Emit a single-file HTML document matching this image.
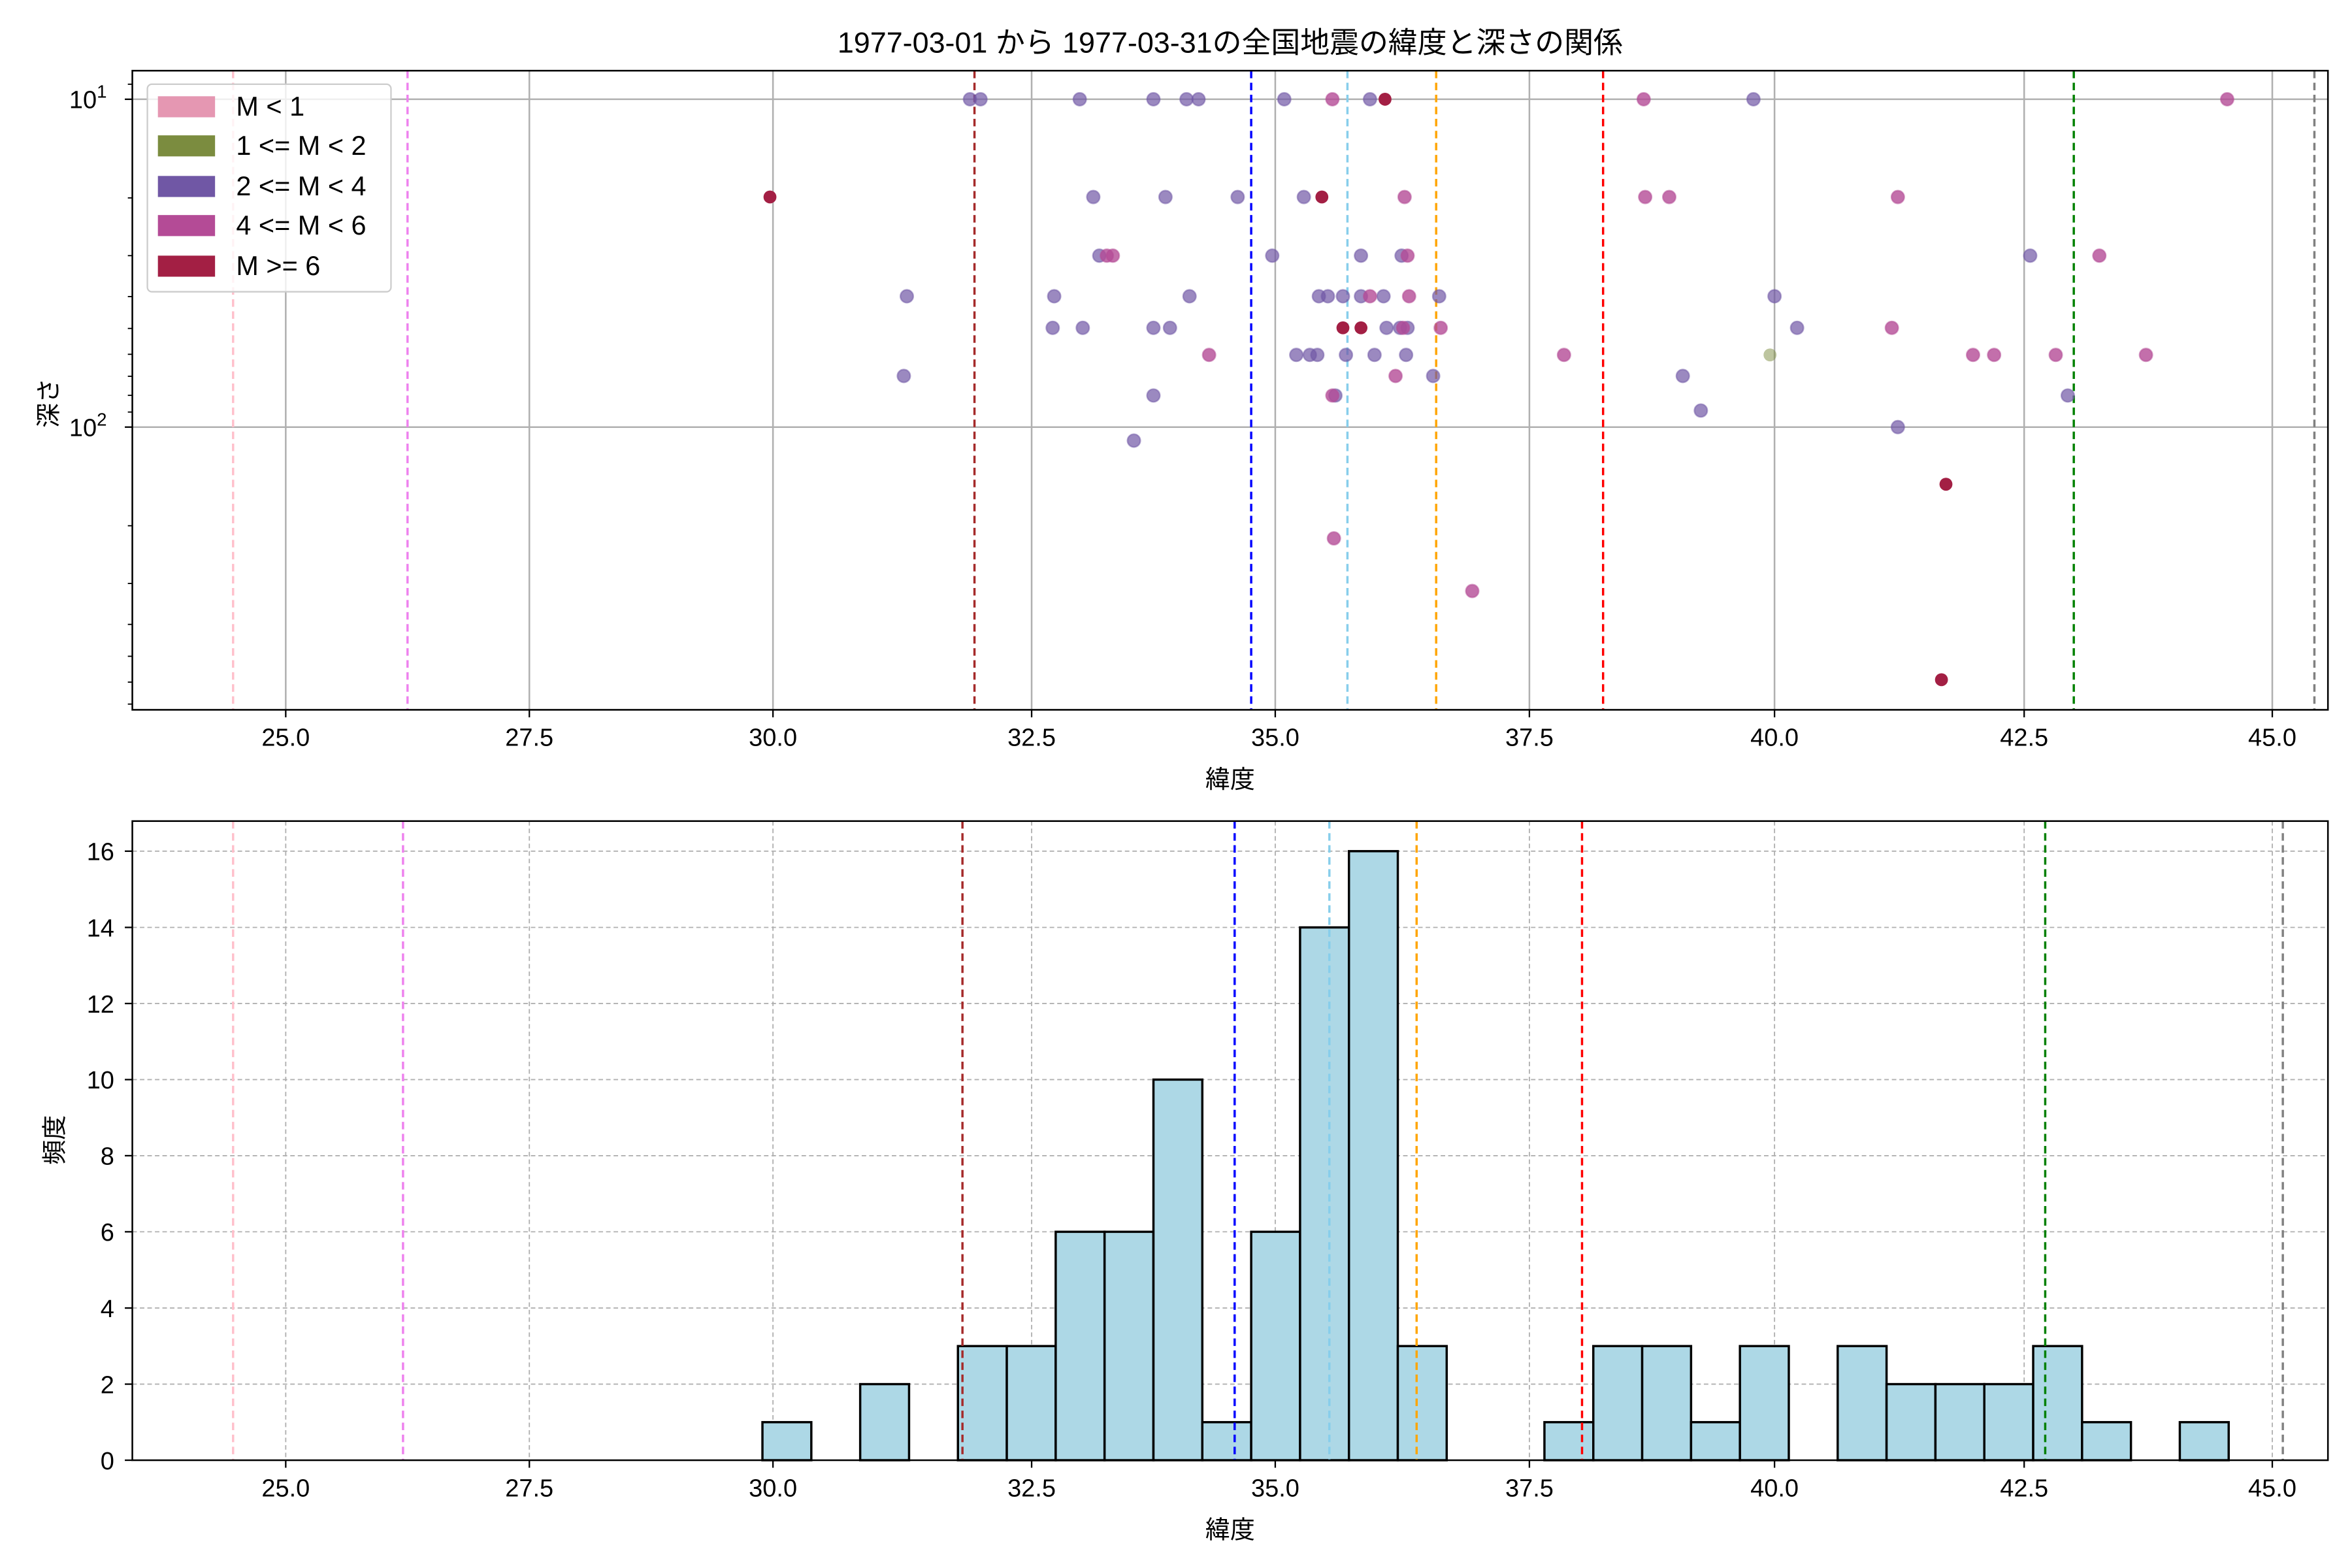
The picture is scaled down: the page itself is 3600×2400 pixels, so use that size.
<!DOCTYPE html>
<html><head><meta charset="utf-8"><style>html,body{margin:0;padding:0;background:#fff}svg{display:block}</style></head><body>
<svg xmlns="http://www.w3.org/2000/svg" width="3600" height="2400" viewBox="0 0 1564 1042.67" preserveAspectRatio="none" font-family="'Liberation Sans','Noto Sans CJK JP',sans-serif">
<rect width="1564" height="1043" fill="#fff"/>
<text x="818" y="35" font-size="19.5" text-anchor="middle">1977-03-01 から 1977-03-31の全国地震の緯度と深さの関係</text>
<!-- TOP AXES -->
<g stroke="#b0b0b0" stroke-width="1.1">
<line x1="190" y1="47" x2="190" y2="472"/><line x1="352" y1="47" x2="352" y2="472"/><line x1="514" y1="47" x2="514" y2="472"/><line x1="686" y1="47" x2="686" y2="472"/><line x1="848" y1="47" x2="848" y2="472"/><line x1="1017" y1="47" x2="1017" y2="472"/><line x1="1180" y1="47" x2="1180" y2="472"/><line x1="1346" y1="47" x2="1346" y2="472"/><line x1="1511" y1="47" x2="1511" y2="472"/>
<line x1="88" y1="66" x2="1548" y2="66"/><line x1="88" y1="284" x2="1548" y2="284"/>
</g>
<g stroke-width="1.5" stroke-dasharray="5,3" fill="none">
<line x1="155" y1="47" x2="155" y2="472" stroke="pink"/><line x1="271" y1="47" x2="271" y2="472" stroke="violet"/><line x1="648" y1="47" x2="648" y2="472" stroke="brown"/><line x1="832" y1="47" x2="832" y2="472" stroke="blue"/><line x1="896" y1="47" x2="896" y2="472" stroke="skyblue"/><line x1="955" y1="47" x2="955" y2="472" stroke="orange"/><line x1="1066" y1="47" x2="1066" y2="472" stroke="red"/><line x1="1379" y1="47" x2="1379" y2="472" stroke="green"/><line x1="1539" y1="47" x2="1539" y2="472" stroke="gray"/>
</g>
<g fill="#7057a5" fill-opacity="0.7" stroke="#7057a5" stroke-opacity="0.5" stroke-width="1">
<circle cx="645" cy="66" r="4.3"/><circle cx="652" cy="66" r="4.3"/><circle cx="718" cy="66" r="4.3"/><circle cx="767" cy="66" r="4.3"/><circle cx="789" cy="66" r="4.3"/><circle cx="797" cy="66" r="4.3"/><circle cx="854" cy="66" r="4.3"/><circle cx="911" cy="66" r="4.3"/><circle cx="1166" cy="66" r="4.3"/>
<circle cx="727" cy="131" r="4.3"/><circle cx="775" cy="131" r="4.3"/><circle cx="823" cy="131" r="4.3"/><circle cx="867" cy="131" r="4.3"/>
<circle cx="731" cy="170" r="4.3"/><circle cx="846" cy="170" r="4.3"/><circle cx="905" cy="170" r="4.3"/><circle cx="932" cy="170" r="4.3"/><circle cx="1350" cy="170" r="4.3"/>
<circle cx="603" cy="197" r="4.3"/><circle cx="701" cy="197" r="4.3"/><circle cx="791" cy="197" r="4.3"/><circle cx="877" cy="197" r="4.3"/><circle cx="883" cy="197" r="4.3"/><circle cx="893" cy="197" r="4.3"/><circle cx="905" cy="197" r="4.3"/><circle cx="920" cy="197" r="4.3"/><circle cx="957" cy="197" r="4.3"/><circle cx="1180" cy="197" r="4.3"/>
<circle cx="700" cy="218" r="4.3"/><circle cx="720" cy="218" r="4.3"/><circle cx="767" cy="218" r="4.3"/><circle cx="778" cy="218" r="4.3"/><circle cx="922" cy="218" r="4.3"/><circle cx="931" cy="218" r="4.3"/><circle cx="936" cy="218" r="4.3"/><circle cx="1195" cy="218" r="4.3"/>
<circle cx="862" cy="236" r="4.3"/><circle cx="871" cy="236" r="4.3"/><circle cx="876" cy="236" r="4.3"/><circle cx="895" cy="236" r="4.3"/><circle cx="914" cy="236" r="4.3"/><circle cx="935" cy="236" r="4.3"/>
<circle cx="601" cy="250" r="4.3"/><circle cx="953" cy="250" r="4.3"/><circle cx="1119" cy="250" r="4.3"/>
<circle cx="767" cy="263" r="4.3"/><circle cx="888" cy="263" r="4.3"/><circle cx="1375" cy="263" r="4.3"/><circle cx="1131" cy="273" r="4.3"/><circle cx="1262" cy="284" r="4.3"/><circle cx="754" cy="293" r="4.3"/>
</g>
<g fill="#b44b96" fill-opacity="0.8" stroke="#b44b96" stroke-opacity="0.5" stroke-width="1">
<circle cx="886" cy="66" r="4.3"/><circle cx="1093" cy="66" r="4.3"/><circle cx="1481" cy="66" r="4.3"/>
<circle cx="934" cy="131" r="4.3"/><circle cx="1094" cy="131" r="4.3"/><circle cx="1110" cy="131" r="4.3"/><circle cx="1262" cy="131" r="4.3"/>
<circle cx="736" cy="170" r="4.3"/><circle cx="740" cy="170" r="4.3"/><circle cx="936" cy="170" r="4.3"/><circle cx="1396" cy="170" r="4.3"/>
<circle cx="911" cy="197" r="4.3"/><circle cx="937" cy="197" r="4.3"/>
<circle cx="933" cy="218" r="4.3"/><circle cx="958" cy="218" r="4.3"/><circle cx="1258" cy="218" r="4.3"/>
<circle cx="804" cy="236" r="4.3"/><circle cx="1040" cy="236" r="4.3"/><circle cx="1312" cy="236" r="4.3"/><circle cx="1326" cy="236" r="4.3"/><circle cx="1367" cy="236" r="4.3"/><circle cx="1427" cy="236" r="4.3"/>
<circle cx="928" cy="250" r="4.3"/><circle cx="886" cy="263" r="4.3"/><circle cx="887" cy="358" r="4.3"/><circle cx="979" cy="393" r="4.3"/>
</g>
<circle cx="1177" cy="236" r="4.3" fill="#7b8c3f" fill-opacity="0.5"/>
<g fill="#a31f44">
<circle cx="921" cy="66" r="4.3"/><circle cx="512" cy="131" r="4.3"/><circle cx="879" cy="131" r="4.3"/><circle cx="893" cy="218" r="4.3"/><circle cx="905" cy="218" r="4.3"/><circle cx="1294" cy="322" r="4.3"/><circle cx="1291" cy="452" r="4.3"/>
</g>
<rect x="88" y="47" width="1460" height="425" fill="none" stroke="#000" stroke-width="1.1"/>
<g stroke="#000" stroke-width="1">
<line x1="190" y1="472" x2="190" y2="477"/><line x1="352" y1="472" x2="352" y2="477"/><line x1="514" y1="472" x2="514" y2="477"/><line x1="686" y1="472" x2="686" y2="477"/><line x1="848" y1="472" x2="848" y2="477"/><line x1="1017" y1="472" x2="1017" y2="477"/><line x1="1180" y1="472" x2="1180" y2="477"/><line x1="1346" y1="472" x2="1346" y2="477"/><line x1="1511" y1="472" x2="1511" y2="477"/>
<line x1="83" y1="66" x2="88" y2="66"/><line x1="83" y1="284" x2="88" y2="284"/>
<g stroke-width="0.8"><line x1="85" y1="56" x2="88" y2="56"/><line x1="85" y1="131.6" x2="88" y2="131.6"/><line x1="85" y1="170" x2="88" y2="170"/><line x1="85" y1="197.2" x2="88" y2="197.2"/><line x1="85" y1="218.4" x2="88" y2="218.4"/><line x1="85" y1="235.6" x2="88" y2="235.6"/><line x1="85" y1="250.2" x2="88" y2="250.2"/><line x1="85" y1="262.9" x2="88" y2="262.9"/><line x1="85" y1="274" x2="88" y2="274"/><line x1="85" y1="349.6" x2="88" y2="349.6"/><line x1="85" y1="388" x2="88" y2="388"/><line x1="85" y1="415.2" x2="88" y2="415.2"/><line x1="85" y1="436.4" x2="88" y2="436.4"/><line x1="85" y1="453.6" x2="88" y2="453.6"/><line x1="85" y1="468.2" x2="88" y2="468.2"/></g>
</g>
<g font-size="16.5" text-anchor="middle">
<text x="190" y="496">25.0</text><text x="352" y="496">27.5</text><text x="514" y="496">30.0</text><text x="686" y="496">32.5</text><text x="848" y="496">35.0</text><text x="1017" y="496">37.5</text><text x="1180" y="496">40.0</text><text x="1346" y="496">42.5</text><text x="1511" y="496">45.0</text>
</g>
<text x="71" y="72" font-size="16.5" text-anchor="end">10<tspan font-size="12" dy="-7">1</tspan></text>
<text x="71" y="290" font-size="16.5" text-anchor="end">10<tspan font-size="12" dy="-7">2</tspan></text>
<text x="818" y="524" font-size="16.5" text-anchor="middle">緯度</text>
<text transform="translate(38,268) rotate(-90)" font-size="16.5" text-anchor="middle">深さ</text>
<!-- legend -->
<rect x="98" y="56" width="162" height="138" rx="3" fill="#fff" fill-opacity="0.8" stroke="#ccc" stroke-width="1"/>
<rect x="105" y="64" width="38" height="14" fill="#e597b2"/><rect x="105" y="90" width="38" height="14" fill="#7b8c3f"/><rect x="105" y="117" width="38" height="14" fill="#7057a5"/><rect x="105" y="143" width="38" height="14" fill="#b44b96"/><rect x="105" y="170" width="38" height="14" fill="#a31f44"/>
<g font-size="18"><text x="157" y="77">M &lt; 1</text><text x="157" y="103">1 &lt;= M &lt; 2</text><text x="157" y="130">2 &lt;= M &lt; 4</text><text x="157" y="156">4 &lt;= M &lt; 6</text><text x="157" y="183">M &gt;= 6</text></g>
<!-- BOTTOM AXES -->
<g stroke="#b0b0b0" stroke-width="0.8" stroke-dasharray="3,2">
<line x1="190" y1="546" x2="190" y2="971"/><line x1="352" y1="546" x2="352" y2="971"/><line x1="514" y1="546" x2="514" y2="971"/><line x1="686" y1="546" x2="686" y2="971"/><line x1="848" y1="546" x2="848" y2="971"/><line x1="1017" y1="546" x2="1017" y2="971"/><line x1="1180" y1="546" x2="1180" y2="971"/><line x1="1346" y1="546" x2="1346" y2="971"/><line x1="1511" y1="546" x2="1511" y2="971"/>
<line x1="88" y1="920.4" x2="1548" y2="920.4"/><line x1="88" y1="869.8" x2="1548" y2="869.8"/><line x1="88" y1="819.1" x2="1548" y2="819.1"/><line x1="88" y1="768.5" x2="1548" y2="768.5"/><line x1="88" y1="717.9" x2="1548" y2="717.9"/><line x1="88" y1="667.3" x2="1548" y2="667.3"/><line x1="88" y1="616.7" x2="1548" y2="616.7"/><line x1="88" y1="566" x2="1548" y2="566"/>
</g>
<g fill="#add8e6" stroke="#000" stroke-width="1.5">
<rect x="507" y="945.7" width="32.5" height="25.3"/>
<rect x="572" y="920.4" width="32.5" height="50.6"/>
<rect x="637" y="895.1" width="32.5" height="75.9"/>
<rect x="669.5" y="895.1" width="32.5" height="75.9"/>
<rect x="702" y="819.1" width="32.5" height="151.9"/>
<rect x="734.5" y="819.1" width="32.5" height="151.9"/>
<rect x="767" y="717.9" width="32.5" height="253.1"/>
<rect x="799.5" y="945.7" width="32.5" height="25.3"/>
<rect x="832" y="819.1" width="32.5" height="151.9"/>
<rect x="864.5" y="616.7" width="32.5" height="354.3"/>
<rect x="897" y="566" width="32.5" height="405"/>
<rect x="929.5" y="895.1" width="32.5" height="75.9"/>
<rect x="1027" y="945.7" width="32.5" height="25.3"/>
<rect x="1059.5" y="895.1" width="32.5" height="75.9"/>
<rect x="1092" y="895.1" width="32.5" height="75.9"/>
<rect x="1124.5" y="945.7" width="32.5" height="25.3"/>
<rect x="1157" y="895.1" width="32.5" height="75.9"/>
<rect x="1222" y="895.1" width="32.5" height="75.9"/>
<rect x="1254.5" y="920.4" width="32.5" height="50.6"/>
<rect x="1287" y="920.4" width="32.5" height="50.6"/>
<rect x="1319.5" y="920.4" width="32.5" height="50.6"/>
<rect x="1352" y="895.1" width="32.5" height="75.9"/>
<rect x="1384.5" y="945.7" width="32.5" height="25.3"/>
<rect x="1449.5" y="945.7" width="32.5" height="25.3"/>
</g>
<g stroke-width="1.5" stroke-dasharray="5,3" fill="none">
<line x1="155" y1="546" x2="155" y2="971" stroke="pink"/><line x1="268" y1="546" x2="268" y2="971" stroke="violet"/><line x1="640" y1="546" x2="640" y2="971" stroke="brown"/><line x1="821" y1="546" x2="821" y2="971" stroke="blue"/><line x1="884" y1="546" x2="884" y2="971" stroke="skyblue"/><line x1="942" y1="546" x2="942" y2="971" stroke="orange"/><line x1="1052" y1="546" x2="1052" y2="971" stroke="red"/><line x1="1360" y1="546" x2="1360" y2="971" stroke="green"/><line x1="1518" y1="546" x2="1518" y2="971" stroke="gray"/>
</g>
<rect x="88" y="546" width="1460" height="425" fill="none" stroke="#000" stroke-width="1.1"/>
<g stroke="#000" stroke-width="1">
<line x1="190" y1="971" x2="190" y2="976"/><line x1="352" y1="971" x2="352" y2="976"/><line x1="514" y1="971" x2="514" y2="976"/><line x1="686" y1="971" x2="686" y2="976"/><line x1="848" y1="971" x2="848" y2="976"/><line x1="1017" y1="971" x2="1017" y2="976"/><line x1="1180" y1="971" x2="1180" y2="976"/><line x1="1346" y1="971" x2="1346" y2="976"/><line x1="1511" y1="971" x2="1511" y2="976"/>
<line x1="83" y1="971" x2="88" y2="971"/><line x1="83" y1="920.4" x2="88" y2="920.4"/><line x1="83" y1="869.8" x2="88" y2="869.8"/><line x1="83" y1="819.1" x2="88" y2="819.1"/><line x1="83" y1="768.5" x2="88" y2="768.5"/><line x1="83" y1="717.9" x2="88" y2="717.9"/><line x1="83" y1="667.3" x2="88" y2="667.3"/><line x1="83" y1="616.7" x2="88" y2="616.7"/><line x1="83" y1="566" x2="88" y2="566"/>
</g>
<g font-size="16.5" text-anchor="middle">
<text x="190" y="995">25.0</text><text x="352" y="995">27.5</text><text x="514" y="995">30.0</text><text x="686" y="995">32.5</text><text x="848" y="995">35.0</text><text x="1017" y="995">37.5</text><text x="1180" y="995">40.0</text><text x="1346" y="995">42.5</text><text x="1511" y="995">45.0</text>
</g>
<g font-size="16.5" text-anchor="end">
<text x="76" y="977">0</text><text x="76" y="926.4">2</text><text x="76" y="875.8">4</text><text x="76" y="825.1">6</text><text x="76" y="774.5">8</text><text x="76" y="723.9">10</text><text x="76" y="673.3">12</text><text x="76" y="622.7">14</text><text x="76" y="572">16</text>
</g>
<text x="818" y="1023" font-size="16.5" text-anchor="middle">緯度</text>
<text transform="translate(42,758) rotate(-90)" font-size="16.5" text-anchor="middle">頻度</text>
</svg>
</body></html>
